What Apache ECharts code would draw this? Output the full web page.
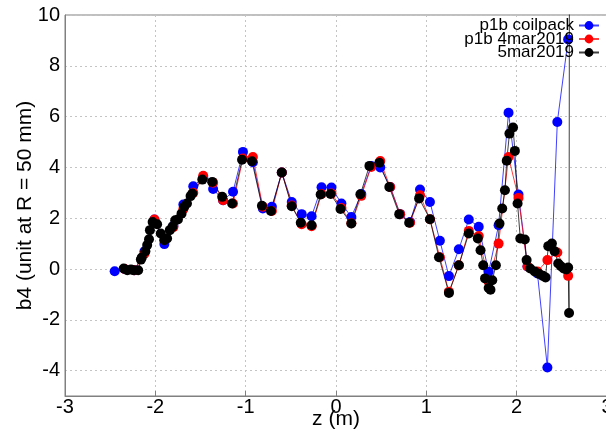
<!DOCTYPE html>
<html>
<head>
<meta charset="utf-8">
<script src="https://cdn.jsdelivr.net/npm/echarts@6/dist/echarts.min.js"></script>
<style>
  html, body { margin: 0; padding: 0; background: #fff; }
  #chart { width: 606px; height: 431px; }
</style>
</head>
<body>
<div id="chart"></div>
<script>
// Measurement positions along z (m) and the b4 harmonic (units at R = 50 mm)
const zCoilpack = [-2.45,-2.34,-2.23,-2.12,-2.01,-1.90,-1.80,-1.69,-1.58,-1.47,-1.36,-1.25,-1.14,-1.03,-0.92,-0.81,-0.71,-0.60,-0.49,-0.38,-0.27,-0.16,-0.05,0.06,0.17,0.28,0.39,0.49,0.60,0.71,0.82,0.93,1.04,1.15,1.25,1.36,1.47,1.58,1.69,1.80,1.91,2.02,2.12,2.23,2.34,2.45,2.57];
const b4Coilpack = [-0.09,0.00,-0.05,0.70,1.95,0.98,1.70,2.54,3.26,3.60,3.15,2.71,3.04,4.61,4.20,2.38,2.45,3.80,2.64,2.16,2.08,3.22,3.21,2.58,2.05,2.95,4.06,4.00,3.23,2.16,1.85,3.13,2.64,1.11,-0.28,0.78,1.95,1.66,-0.11,1.72,6.15,2.93,0.10,-0.18,-3.88,5.79,9.04];

const zMar4 = [-2.34,-2.23,-2.12,-2.01,-1.90,-1.80,-1.69,-1.58,-1.47,-1.36,-1.25,-1.14,-1.03,-0.92,-0.81,-0.71,-0.60,-0.49,-0.38,-0.27,-0.16,-0.05,0.06,0.17,0.28,0.39,0.49,0.60,0.71,0.82,0.93,1.04,1.15,1.25,1.36,1.47,1.58,1.69,1.80,1.91,2.02,2.12,2.23,2.34,2.45,2.57];
const b4Mar4 = [0.00,-0.05,0.60,1.95,1.15,1.65,2.35,3.00,3.67,3.40,2.71,2.58,4.35,4.41,2.45,2.28,3.80,2.50,1.76,1.68,2.95,2.97,2.40,1.80,2.88,4.02,4.25,3.23,2.16,1.82,2.90,1.96,0.46,-0.90,0.15,1.50,1.30,-0.50,1.00,4.41,2.80,0.10,-0.10,0.35,0.65,-0.27];

const zMar5 = [-2.35,-2.31,-2.27,-2.24,-2.19,-2.16,-2.15,-2.11,-2.09,-2.07,-2.06,-2.03,-1.98,-1.94,-1.90,-1.87,-1.84,-1.81,-1.78,-1.75,-1.71,-1.68,-1.65,-1.61,-1.59,-1.48,-1.37,-1.26,-1.15,-1.04,-0.93,-0.82,-0.72,-0.60,-0.49,-0.39,-0.27,-0.17,-0.06,0.05,0.17,0.27,0.37,0.48,0.59,0.70,0.81,0.92,1.04,1.14,1.25,1.36,1.47,1.57,1.60,1.63,1.65,1.69,1.71,1.73,1.77,1.81,1.84,1.87,1.89,1.92,1.96,1.98,2.01,2.04,2.09,2.11,2.15,2.20,2.25,2.29,2.32,2.35,2.39,2.42,2.46,2.49,2.52,2.55,2.57,2.58,2.585];
const b4Mar5 = [0.02,-0.05,-0.02,-0.05,-0.05,0.37,0.45,0.70,0.94,1.17,1.53,1.85,1.76,1.40,1.13,1.20,1.53,1.66,1.92,1.95,2.18,2.45,2.58,2.87,2.97,3.52,3.43,2.84,2.58,4.30,4.24,2.49,2.28,3.80,2.47,1.82,1.72,2.93,2.95,2.36,1.79,2.94,4.06,4.18,3.23,2.16,1.82,2.78,1.96,0.46,-0.94,0.15,1.40,1.20,0.74,0.15,-0.37,-0.75,-0.82,-0.44,0.15,1.79,2.38,3.10,4.26,5.33,5.57,4.65,2.58,1.20,1.16,0.35,0.02,-0.10,-0.20,-0.27,-0.33,0.90,1.00,0.70,0.22,0.11,0.02,-0.02,0.06,-1.73,16];

const seriesNames = ['p1b coilpack', 'p1b 4mar2019', '5mar2019'];
const seriesColors = ['#0000ff', '#ff0000', '#000000'];
const xTicks = [-3, 3, 1];      // min, max, step
const yTicks = [-4, 10, 2];     // labelled range
const yRange = [-5, 10];        // full plotted range

const zip = (xs, ys) => xs.map((x, i) => [x, ys[i]]);

const FONT = 'Liberation Sans, Arial, sans-serif';
const PLOT = { left: 65, top: 15, width: 542, height: 381 };
const unitPx = PLOT.height / (yRange[1] - yRange[0]);

const chart = echarts.init(document.getElementById('chart'), null, { renderer: 'canvas' });

function makeSeries(name, color, xs, ys) {
  return {
    name: name,
    type: 'line',
    xAxisIndex: 0,
    yAxisIndex: 0,
    data: zip(xs, ys),
    symbol: 'circle',
    symbolSize: 10,
    clip: true,
    itemStyle: { color: color },
    lineStyle: { color: color, width: 1, opacity: 0.75 },
    emphasis: { disabled: true },
    animation: false
  };
}

chart.setOption({
  animation: false,
  backgroundColor: '#ffffff',
  grid: [
    { left: PLOT.left, top: PLOT.top, width: PLOT.width, height: PLOT.height,
      outerBoundsMode: 'none', containLabel: false,
      show: true, borderColor: '#808080', borderWidth: 1, backgroundColor: 'transparent' },
    // labelled span of the value axis (-4 .. 10)
    { left: PLOT.left, top: PLOT.top, width: PLOT.width,
      height: unitPx * (yTicks[1] - yTicks[0]),
      outerBoundsMode: 'none', containLabel: false, show: false }
  ],
  legend: {
    orient: 'vertical',
    right: 1,
    top: 12,
    align: 'right',
    itemWidth: 20,
    itemHeight: 11,
    itemGap: -3.5,
    data: seriesNames,
    textStyle: { fontFamily: FONT, fontSize: 17, color: '#000' },
    selectedMode: false
  },
  xAxis: [
    {
      gridIndex: 0,
      type: 'value',
      min: xTicks[0], max: xTicks[1], interval: xTicks[2],
      name: 'z (m)',
      nameLocation: 'middle',
      nameGap: 13,
      nameMoveOverlap: false,
      nameTextStyle: { fontFamily: FONT, fontSize: 21, color: '#000' },
      axisLine: { show: true, onZero: false, lineStyle: { color: '#808080', width: 1 } },
      axisTick: { show: true, inside: true, length: 5, lineStyle: { color: '#808080' } },
      axisLabel: { fontFamily: FONT, fontSize: 20, color: '#000', margin: 1 },
      splitLine: { show: true, lineStyle: { color: '#c4c4c4', type: [2, 3], width: 1 } }
    },
    {
      gridIndex: 1,
      type: 'value',
      min: xTicks[0], max: xTicks[1], interval: xTicks[2],
      show: false
    }
  ],
  yAxis: [
    {
      gridIndex: 0,
      type: 'value',
      min: yRange[0], max: yRange[1], interval: 1,
      name: 'b4 (unit at R = 50 mm)',
      nameLocation: 'middle',
      nameGap: 29,
      nameMoveOverlap: false,
      nameTextStyle: { fontFamily: FONT, fontSize: 21, color: '#000' },
      axisLine: { show: true, onZero: false, lineStyle: { color: '#808080', width: 1 } },
      axisTick: { show: false },
      axisLabel: { show: false },
      splitLine: { show: false }
    },
    {
      gridIndex: 1,
      type: 'value',
      min: yTicks[0], max: yTicks[1], interval: yTicks[2],
      axisLine: { show: false, onZero: false },
      axisTick: { show: false },
      axisLabel: { fontFamily: FONT, fontSize: 20, color: '#000', margin: 5 },
      splitLine: { show: true, lineStyle: { color: '#c4c4c4', type: [2, 3], width: 1 } }
    }
  ],
  series: [
    makeSeries(seriesNames[0], seriesColors[0], zCoilpack, b4Coilpack),
    makeSeries(seriesNames[1], seriesColors[1], zMar4, b4Mar4),
    makeSeries(seriesNames[2], seriesColors[2], zMar5, b4Mar5)
  ]
});
</script>
</body>
</html>
